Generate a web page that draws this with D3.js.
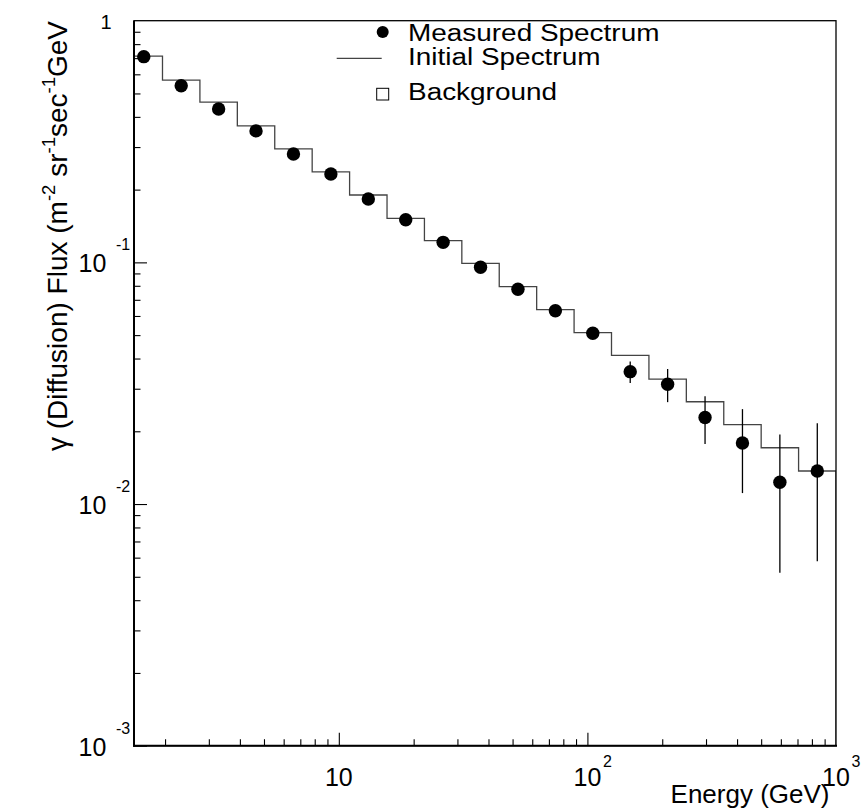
<!DOCTYPE html>
<html>
<head>
<meta charset="utf-8">
<script src="https://cdn.jsdelivr.net/npm/d3@7"></script>
<style>
  body { margin: 0; background: #fff; }
  svg { display: block; font-family: "Liberation Sans", Arial, Helvetica, sans-serif; }
</style>
</head>
<body>
<svg id="chart" width="868" height="811"></svg>
<script>
// bin edges in GeV (19 bins)
const binEdges = [1.381, 1.953, 2.762, 3.906, 5.524, 7.813, 11.05, 15.63, 22.10, 31.25,
  44.19, 62.50, 88.39, 125.0, 176.8, 250.0, 353.6, 500.0, 707.1, 1000];

// initial spectrum (histogram)
const initialSpectrum = [0.714, 0.568, 0.460, 0.367, 0.295, 0.237, 0.190, 0.152, 0.123, 0.0991,
  0.0793, 0.0637, 0.0512, 0.0412, 0.0329, 0.0265, 0.0213, 0.0171, 0.0137];

// measured spectrum (points) and errors
const measuredSpectrum = [0.710, 0.538, 0.431, 0.350, 0.281, 0.232, 0.183, 0.150, 0.121, 0.0954,
  0.0774, 0.0631, 0.0509, 0.0353, 0.0313, 0.0228, 0.0179, 0.0123, 0.0137];
const measuredError = [0.008, 0.007, 0.006, 0.005, 0.004, 0.004, 0.003, 0.003, 0.003, 0.0025,
  0.0022, 0.002, 0.002, 0.0036, 0.0049, 0.0051, 0.0068, 0.0071, 0.0079];

const xTickLabels = [{ v: 10, base: "10", exp: "" }, { v: 100, base: "10", exp: "2" }, { v: 1000, base: "10", exp: "3" }];
const yTickLabels = [{ v: 1, base: "1", exp: "" }, { v: 0.1, base: "10", exp: "-1" },
  { v: 0.01, base: "10", exp: "-2" }, { v: 0.001, base: "10", exp: "-3" }];

const legendItems = ["Measured Spectrum", "Initial Spectrum", "Background"];

const plot = { left: 134, right: 836, top: 20.7, bottom: 745.7 };

const svg = d3.select("#chart");
svg.append("rect").attr("width", 868).attr("height", 811).attr("fill", "#fff");

const x = d3.scaleLog().domain([1.5, 1000]).range([plot.left, plot.right]);
const y = d3.scaleLog().domain([1e-3, 1]).range([plot.bottom, plot.top]);

svg.append("clipPath").attr("id", "clip")
  .append("rect")
  .attr("x", plot.left).attr("y", plot.top)
  .attr("width", plot.right - plot.left).attr("height", plot.bottom - plot.top);

const isMajor = v => Math.abs(Math.log10(v) - Math.round(Math.log10(v))) < 1e-6;

// ticks (pointing inward)
const xMinor = x.ticks().filter(v => !isMajor(v));
const xMajor = x.ticks().filter(isMajor);
const yMinor = y.ticks().filter(v => !isMajor(v));
const yMajor = y.ticks().filter(isMajor);

function tickAxis(axis, vals, size, transform) {
  const g = svg.append("g")
    .attr("transform", transform)
    .call(axis.tickValues(vals).tickSize(-size).tickFormat(""));
  g.select(".domain").remove();
  g.selectAll("line").attr("stroke", "#000").attr("stroke-width", 1.1);
}
tickAxis(d3.axisBottom(x), xMinor, 6.5, `translate(0,${plot.bottom})`);
tickAxis(d3.axisBottom(x), xMajor.filter(v => v < 1000), 13, `translate(0,${plot.bottom})`);
tickAxis(d3.axisLeft(y), yMinor, 6.5, `translate(${plot.left},0)`);
tickAxis(d3.axisLeft(y), yMajor.filter(v => v < 1), 13, `translate(${plot.left},0)`);

// histogram (initial spectrum)
const histPts = [[binEdges[0], 1e-4]];
initialSpectrum.forEach((v, i) => {
  histPts.push([binEdges[i], v]);
  histPts.push([binEdges[i + 1], v]);
});
histPts.push([binEdges[binEdges.length - 1], 1e-4]);

svg.append("path")
  .attr("clip-path", "url(#clip)")
  .attr("d", d3.line().x(d => x(d[0])).y(d => Math.min(y(d[1]), plot.bottom))(histPts))
  .attr("fill", "none")
  .attr("stroke", "#444")
  .attr("stroke-width", 1.3);

// frame
svg.append("rect")
  .attr("x", plot.left).attr("y", plot.top)
  .attr("width", plot.right - plot.left).attr("height", plot.bottom - plot.top)
  .attr("fill", "none").attr("stroke", "#000").attr("stroke-width", 1.3);
svg.append("line").attr("x1", plot.left).attr("x2", plot.left)
  .attr("y1", plot.top).attr("y2", plot.bottom + 1).attr("stroke", "#000").attr("stroke-width", 2);
svg.append("line").attr("x1", plot.left - 1).attr("x2", plot.right + 1)
  .attr("y1", plot.bottom).attr("y2", plot.bottom).attr("stroke", "#000").attr("stroke-width", 2);

// measured points with error bars
const points = measuredSpectrum.map((v, i) => ({
  e: Math.sqrt(binEdges[i] * binEdges[i + 1]), v, err: measuredError[i]
}));

svg.append("g").selectAll("line")
  .data(points)
  .enter()
  .append("line")
  .attr("x1", d => x(d.e)).attr("x2", d => x(d.e))
  .attr("y1", d => y(d.v + d.err)).attr("y2", d => y(d.v - d.err))
  .attr("stroke", "#000").attr("stroke-width", 1.3);

svg.append("g").selectAll("circle")
  .data(points)
  .enter()
  .append("circle")
  .attr("cx", d => x(d.e)).attr("cy", d => y(d.v))
  .attr("r", 6.7)
  .attr("fill", "#000");

// tick labels
function powLabel(g, base, exp, bx, by, anchor, bsize, ex, ey) {
  g.append("text").attr("x", bx).attr("y", by).attr("text-anchor", anchor)
    .attr("font-size", bsize).text(base);
  if (exp) {
    g.append("text").attr("x", ex).attr("y", ey).attr("font-size", 16).text(exp);
  }
}
const labels = svg.append("g").attr("fill", "#000");
yTickLabels.forEach(t => {
  const ty = y(t.v);
  if (t.exp) powLabel(labels, t.base, t.exp, 78.5, ty + 9.8, "start", 25, 116, ty - 12.2);
  else powLabel(labels, t.base, "", 100.5, ty + 8.6, "start", 20);
});
xTickLabels.forEach(t => {
  const tx = x(t.v);
  powLabel(labels, t.base, t.exp, tx, 786, "middle", 25, tx + 15.5, 767.3);
});

// axis titles
svg.append("text")
  .attr("x", 829.5).attr("y", 803.3)
  .attr("text-anchor", "end")
  .attr("font-size", 26)
  .text("Energy (GeV)");

const yTitle = svg.append("text")
  .attr("transform", "translate(55,21) rotate(-90)")
  .attr("text-anchor", "end")
  .attr("font-size", 28);
const yParts = [["γ (Diffusion) Flux (m", false], ["-2", true], [" sr", false], ["-1", true],
  ["sec", false], ["-1", true], ["GeV", false]];
yParts.forEach(([t, sup]) => {
  yTitle.append("tspan")
    .attr("font-size", sup ? 18.5 : 28)
    .attr("dy", sup ? -11.5 : (yTitle.selectAll("tspan").size() ? 11.5 : 0))
    .text(t);
});

// legend
const legend = svg.append("g");
legend.append("circle").attr("cx", 382.7).attr("cy", 32).attr("r", 6).attr("fill", "#000");
legend.append("line").attr("x1", 336.7).attr("x2", 381.7).attr("y1", 58.3).attr("y2", 58.3)
  .attr("stroke", "#444").attr("stroke-width", 1.3);
legend.append("rect").attr("x", 376.7).attr("y", 88.3).attr("width", 12).attr("height", 11.7)
  .attr("fill", "none").attr("stroke", "#000").attr("stroke-width", 1);
const legendY = [40.7, 65, 100];
legend.selectAll("text")
  .data(legendItems)
  .enter()
  .append("text")
  .attr("transform", (d, i) => `translate(408,${legendY[i]}) scale(1.14,1)`)
  .attr("font-size", 24.5)
  .text(d => d);
</script>
</body>
</html>
